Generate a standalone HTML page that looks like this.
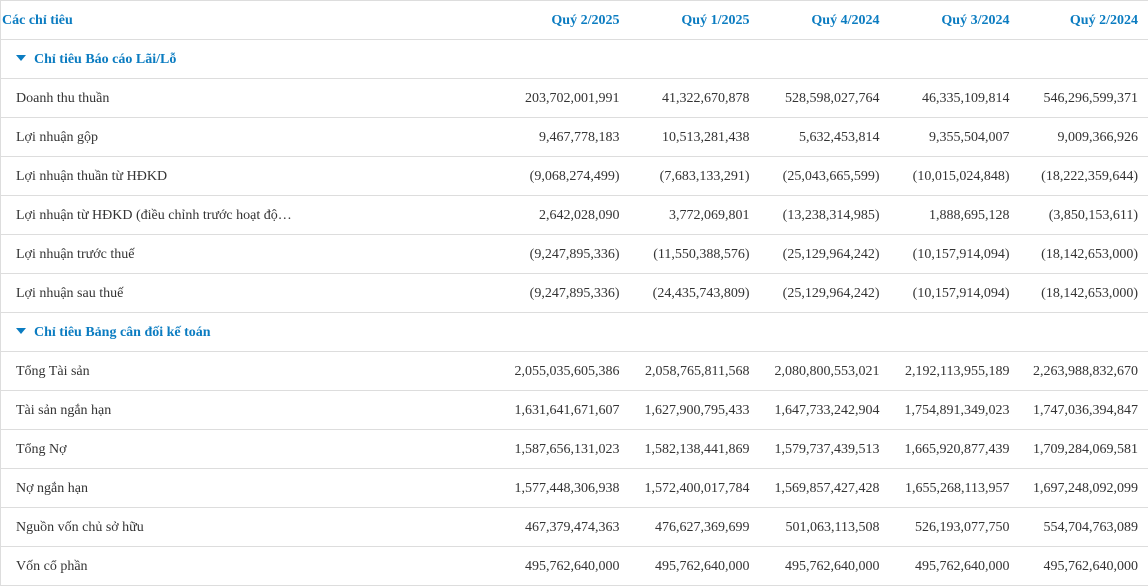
<!DOCTYPE html>
<html><head><meta charset="utf-8"><style>
body{margin:0;width:1148px;height:588px;background:#fff;overflow:hidden;font-family:"Liberation Serif","Noto Serif CJK SC",serif;font-size:14px;color:#333}
table{position:absolute;left:0;top:0;border-collapse:collapse;width:1148px;table-layout:fixed;border-top:1px solid #ddd;border-left:1px solid #ddd;border-right:1px solid #ddd}
td{height:36px;padding:2px 0 0 0;border-bottom:1px solid #ddd;white-space:nowrap;vertical-align:middle}
td.n{text-align:right;padding-right:10px}
td.l{padding-left:15px}
.h td{color:#0b7cc1;font-weight:bold}
.h td.l{padding-left:1px}
.s td{color:#0b7cc1;font-weight:bold}
.tri{display:inline-block;width:0;height:0;border-left:5px solid transparent;border-right:5px solid transparent;border-top:6px solid #0b7cc1;margin-right:8px;vertical-align:2px}
</style></head><body>
<table>
<colgroup><col style="width:499px"><col style="width:130px"><col style="width:130px"><col style="width:130px"><col style="width:130px"><col style="width:129px"></colgroup>
<tr class="h"><td class="l">Các chỉ tiêu</td><td class="n">Quý 2/2025</td><td class="n">Quý 1/2025</td><td class="n">Quý 4/2024</td><td class="n">Quý 3/2024</td><td class="n">Quý 2/2024</td></tr>
<tr class="s"><td class="l" colspan="6"><span class="tri"></span>Chỉ tiêu Báo cáo Lãi/Lỗ</td></tr>
<tr><td class="l">Doanh thu thuần</td><td class="n">203,702,001,991</td><td class="n">41,322,670,878</td><td class="n">528,598,027,764</td><td class="n">46,335,109,814</td><td class="n">546,296,599,371</td></tr>
<tr><td class="l">Lợi nhuận gộp</td><td class="n">9,467,778,183</td><td class="n">10,513,281,438</td><td class="n">5,632,453,814</td><td class="n">9,355,504,007</td><td class="n">9,009,366,926</td></tr>
<tr><td class="l">Lợi nhuận thuần từ HĐKD</td><td class="n">(9,068,274,499)</td><td class="n">(7,683,133,291)</td><td class="n">(25,043,665,599)</td><td class="n">(10,015,024,848)</td><td class="n">(18,222,359,644)</td></tr>
<tr><td class="l">Lợi nhuận từ HĐKD (điều chỉnh trước hoạt độ…</td><td class="n">2,642,028,090</td><td class="n">3,772,069,801</td><td class="n">(13,238,314,985)</td><td class="n">1,888,695,128</td><td class="n">(3,850,153,611)</td></tr>
<tr><td class="l">Lợi nhuận trước thuế</td><td class="n">(9,247,895,336)</td><td class="n">(11,550,388,576)</td><td class="n">(25,129,964,242)</td><td class="n">(10,157,914,094)</td><td class="n">(18,142,653,000)</td></tr>
<tr><td class="l">Lợi nhuận sau thuế</td><td class="n">(9,247,895,336)</td><td class="n">(24,435,743,809)</td><td class="n">(25,129,964,242)</td><td class="n">(10,157,914,094)</td><td class="n">(18,142,653,000)</td></tr>
<tr class="s"><td class="l" colspan="6"><span class="tri"></span>Chỉ tiêu Bảng cân đối kế toán</td></tr>
<tr><td class="l">Tổng Tài sản</td><td class="n">2,055,035,605,386</td><td class="n">2,058,765,811,568</td><td class="n">2,080,800,553,021</td><td class="n">2,192,113,955,189</td><td class="n">2,263,988,832,670</td></tr>
<tr><td class="l">Tài sản ngắn hạn</td><td class="n">1,631,641,671,607</td><td class="n">1,627,900,795,433</td><td class="n">1,647,733,242,904</td><td class="n">1,754,891,349,023</td><td class="n">1,747,036,394,847</td></tr>
<tr><td class="l">Tổng Nợ</td><td class="n">1,587,656,131,023</td><td class="n">1,582,138,441,869</td><td class="n">1,579,737,439,513</td><td class="n">1,665,920,877,439</td><td class="n">1,709,284,069,581</td></tr>
<tr><td class="l">Nợ ngắn hạn</td><td class="n">1,577,448,306,938</td><td class="n">1,572,400,017,784</td><td class="n">1,569,857,427,428</td><td class="n">1,655,268,113,957</td><td class="n">1,697,248,092,099</td></tr>
<tr><td class="l">Nguồn vốn chủ sở hữu</td><td class="n">467,379,474,363</td><td class="n">476,627,369,699</td><td class="n">501,063,113,508</td><td class="n">526,193,077,750</td><td class="n">554,704,763,089</td></tr>
<tr><td class="l">Vốn cổ phần</td><td class="n">495,762,640,000</td><td class="n">495,762,640,000</td><td class="n">495,762,640,000</td><td class="n">495,762,640,000</td><td class="n">495,762,640,000</td></tr>
</table>
</body></html>
